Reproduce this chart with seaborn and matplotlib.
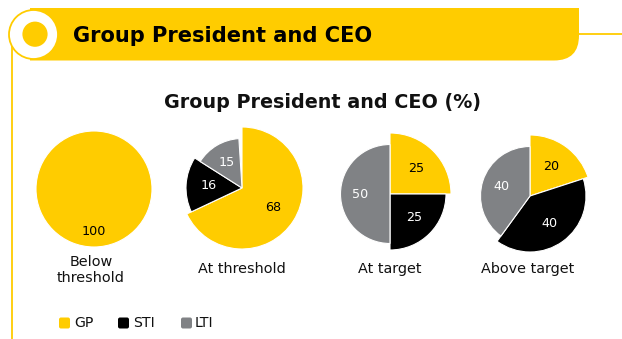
import numpy as np
import matplotlib
matplotlib.use("Agg")
import matplotlib.pyplot as plt
import seaborn as sns
from matplotlib.patches import Wedge, Circle, PathPatch, FancyBboxPatch
from matplotlib.path import Path

# ---- data -------------------------------------------------------------
components = ["GP", "STI", "LTI"]
scenarios = ["Below\nthreshold", "At threshold", "At target", "Above target"]
gp_values = [100, 68, 25, 20]
sti_values = [0, 16, 25, 40]
lti_values = [0, 15, 50, 40]
header_text = "Group President and CEO"
chart_title = "Group President and CEO (%)"

# ---- style ------------------------------------------------------------
sns.set_theme(style="white")
plt.rcParams["font.family"] = ["DejaVu Sans"]

palette = {"GP": "#FFCC00", "STI": "#000000", "LTI": "#808285"}
label_colors = {"GP": "#000000", "STI": "#FFFFFF", "LTI": "#FFFFFF"}
# each component is drawn with its own radius (pixels)
wedge_radius = {"GP": 61, "STI": 56, "LTI": 49.5}
single_radius = 58
pie_centers = [(94, 189), (242, 188), (390, 194), (530, 196)]
caption_xy = [(91, 270), (242, 269), (390, 269), (528, 269)]

W, H = 622, 339
fig = plt.figure(figsize=(W / 100, H / 100), dpi=100)
ax = fig.add_axes([0, 0, 1, 1])
ax.set_xlim(0, W)
ax.set_ylim(H, 0)
ax.set_aspect("equal")
ax.axis("off")

yellow = palette["GP"]

# ---- header banner ----------------------------------------------------
top, bot, left, right, rad = 8, 60.5, 30, 579, 25
verts = [(left, top), (right, top), (right, bot - rad),
         (right, bot), (right - rad, bot), (left, bot), (left, top)]
codes = [Path.MOVETO, Path.LINETO, Path.LINETO,
         Path.CURVE3, Path.CURVE3, Path.LINETO, Path.CLOSEPOLY]
ax.add_patch(PathPatch(Path(verts, codes), facecolor=yellow, edgecolor="none", zorder=2))
ax.plot([right, W], [34.3, 34.3], color=yellow, lw=1.3, zorder=1, solid_capstyle="butt")
ax.plot([12.3, 12.3], [40, H], color=yellow, lw=1.3, zorder=1, solid_capstyle="butt")
ax.add_patch(Circle((33.5, 34.5), 24.5, facecolor="white", edgecolor=yellow, lw=1.3, zorder=3))
ax.add_patch(Circle((35, 34.2), 12.6, facecolor=yellow, edgecolor="none", zorder=4))
ax.text(73, 36, header_text, fontsize=15.1, fontweight="bold", color="black",
        ha="left", va="center", zorder=5)

# ---- chart title ------------------------------------------------------
ax.text(323, 102, chart_title, fontsize=13.8, fontweight="bold", color="#111111",
        ha="center", va="center")

# ---- pies -------------------------------------------------------------
for i, scen in enumerate(scenarios):
    cx, cy = pie_centers[i]
    vals = {"GP": gp_values[i], "STI": sti_values[i], "LTI": lti_values[i]}
    shown = [c for c in components if vals[c] > 0]
    total = 100.0
    start = 90.0  # clockwise from 12 o'clock
    for c in shown:
        v = vals[c]
        sweep = v / total * 360.0
        r = single_radius if len(shown) == 1 else wedge_radius[c]
        t1, t2 = start - sweep, start
        # y axis is inverted, so mirror angles to keep clockwise order
        ax.add_patch(Wedge((cx, cy), r, -t2, -t1, facecolor=palette[c],
                           edgecolor="white", lw=0.8, zorder=3))
        mid = np.deg2rad((t1 + t2) / 2.0)
        d = 0.74 * r if len(shown) == 1 else 0.6 * r
        ax.text(cx + d * np.cos(mid), cy - d * np.sin(mid), f"{v}",
                fontsize=9.2, color=label_colors[c], ha="center", va="center", zorder=4)
        start = t1
    tx, ty = caption_xy[i]
    ax.text(tx, ty, scen, fontsize=10.4, color="#111111", ha="center", va="center",
            linespacing=1.25)

# ---- legend -----------------------------------------------------------
legend_sq_x = [59, 118, 181]
legend_tx_x = [74, 133, 195]
for c, sx, tx in zip(components, legend_sq_x, legend_tx_x):
    ax.add_patch(FancyBboxPatch((sx + 1.5, 317.5 + 1.5), 8, 8,
                                boxstyle="round,pad=1.5,rounding_size=2",
                                facecolor=palette[c], edgecolor="none"))
    ax.text(tx, 323, c, fontsize=10.2, color="#111111", ha="left", va="center")

fig.savefig("out.png", dpi=100)
